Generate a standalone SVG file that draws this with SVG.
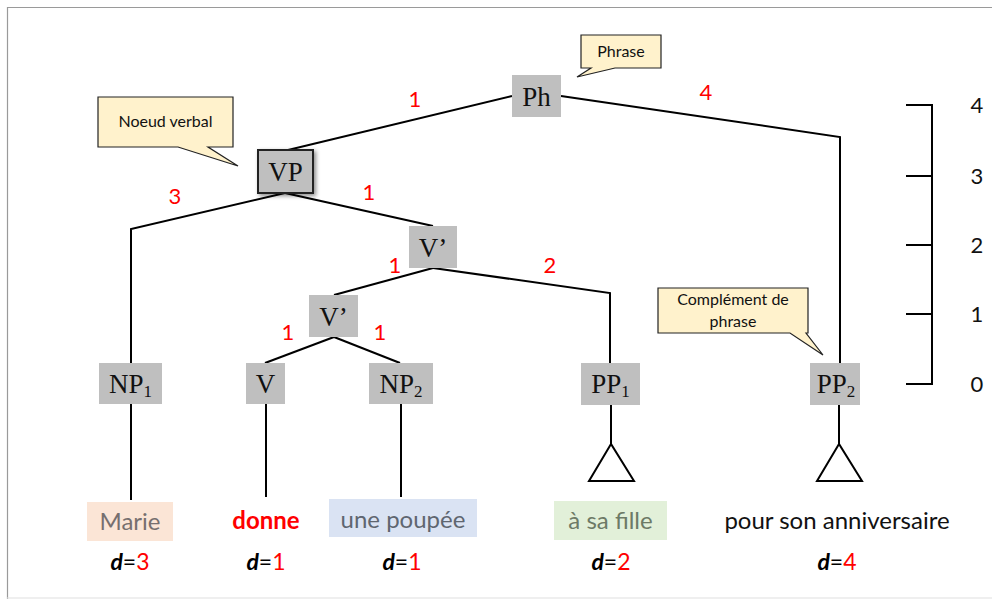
<svg xmlns="http://www.w3.org/2000/svg" width="992" height="599" viewBox="0 0 992 599">
<style>
.box{fill:#bfbfbf}
.lbl{font-family:"Liberation Serif","Times New Roman",serif;font-size:27px;fill:#111;text-anchor:middle}
.sub{font-size:17px}
.ln{stroke:#000;stroke-width:2;fill:none}
.num{font-family:Lato,"Open Sans",sans-serif;font-size:22px;fill:#ff0000;text-anchor:middle}
.call{fill:#fff2cc;stroke:#222;stroke-width:1.2}
.ct{font-family:Lato,"Open Sans",sans-serif;font-size:16px;fill:#111;text-anchor:middle}
.word{font-family:Lato,"Open Sans",sans-serif;font-size:24px;text-anchor:middle}
.d{font-family:Lato,"Open Sans",sans-serif;font-size:23px;text-anchor:middle;fill:#000}
.scale{font-family:Lato,"Open Sans",sans-serif;font-size:22px;fill:#111;text-anchor:middle}
</style>
<defs>
<filter id="sh" x="-30%" y="-30%" width="160%" height="160%">
<feDropShadow dx="2" dy="2" stdDeviation="2" flood-color="#000" flood-opacity="0.45"/>
</filter>
</defs>
<rect width="992" height="599" fill="#fff"/>
<g id="frame">
<line x1="7" y1="7.5" x2="992" y2="7.5" stroke="#9a9a9a" stroke-width="1.2"/>
<line x1="7.5" y1="7" x2="7.5" y2="599" stroke="#9a9a9a" stroke-width="1.2"/>
<line x1="7" y1="598" x2="992" y2="598" stroke="#e0e0e0" stroke-width="1.2"/>
</g>
<g id="connectors">
<polyline class="ln" points="512,96 288,150"/>
<polyline class="ln" points="561,96 840,137 840,363"/>
<polyline class="ln" points="285,193 131,229 131,363"/>
<polyline class="ln" points="285,193 433,226"/>
<polyline class="ln" points="433,268 334,295"/>
<polyline class="ln" points="433,268 610,293 610,363"/>
<polyline class="ln" points="334,337 265,363"/>
<polyline class="ln" points="334,337 400,363"/>
<line class="ln" x1="131" y1="404" x2="131" y2="500"/>
<line class="ln" x1="266" y1="404" x2="266" y2="497"/>
<line class="ln" x1="401" y1="404" x2="401" y2="497"/>
<line class="ln" x1="611" y1="405" x2="611" y2="444"/>
<polygon class="ln" points="611,444 589,481 634,481"/>
<line class="ln" x1="839" y1="405" x2="839" y2="444"/>
<polygon class="ln" points="839,444 817,481 862,481"/>
</g>
<g id="weights">
<text class="num" x="415" y="107">1</text>
<text class="num" x="706" y="100">4</text>
<text class="num" x="175" y="204">3</text>
<text class="num" x="369" y="200">1</text>
<text class="num" x="395" y="273">1</text>
<text class="num" x="550" y="273">2</text>
<text class="num" x="288" y="340">1</text>
<text class="num" x="380" y="340">1</text>
</g>
<g id="node-Ph">
<rect class="box" x="512" y="75" width="49" height="42"/>
<text class="lbl" x="536.5" y="106">Ph</text>
</g>
<g id="node-VP">
<rect x="258" y="150" width="55" height="43" fill="#bfbfbf" stroke="#222" stroke-width="2" filter="url(#sh)"/>
<text class="lbl" x="285.5" y="181">VP</text>
</g>
<g id="node-Vbar1">
<rect class="box" x="409" y="226" width="48" height="42"/>
<text class="lbl" x="433" y="257">V’</text>
</g>
<g id="node-Vbar2">
<rect class="box" x="309" y="295" width="49" height="42"/>
<text class="lbl" x="333.5" y="326">V’</text>
</g>
<g id="node-NP1">
<rect class="box" x="99" y="363" width="63" height="41"/>
<text class="lbl" x="130.5" y="393">NP<tspan class="sub" dy="4">1</tspan></text>
</g>
<g id="node-V">
<rect class="box" x="246" y="363" width="39" height="41"/>
<text class="lbl" x="265.5" y="393">V</text>
</g>
<g id="node-NP2">
<rect class="box" x="369" y="363" width="64" height="41"/>
<text class="lbl" x="401" y="393">NP<tspan class="sub" dy="4">2</tspan></text>
</g>
<g id="node-PP1">
<rect class="box" x="581" y="363" width="59" height="42"/>
<text class="lbl" x="610.5" y="393">PP<tspan class="sub" dy="4">1</tspan></text>
</g>
<g id="node-PP2">
<rect class="box" x="810" y="363" width="50" height="42"/>
<text class="lbl" x="836" y="393">PP<tspan class="sub" dy="4">2</tspan></text>
</g>
<g id="callout-phrase">
<path class="call" d="M581,35 H661 V68 H615 L577,77 L591,68 H581 Z"/>
<text class="ct" x="621" y="57">Phrase</text>
</g>
<g id="callout-noeud">
<path class="call" d="M98,97 H233 V147 H208 L238,166 L178,147 H98 Z"/>
<text class="ct" x="165.5" y="127">Noeud verbal</text>
</g>
<g id="callout-complement">
<path class="call" d="M658,288 H808 V333 H806 L823,355 L790,333 H658 Z"/>
<text class="ct" x="733" y="305">Complément de</text>
<text class="ct" x="733" y="327">phrase</text>
</g>
<g id="scale">
<polyline class="ln" points="906,105 932,105 932,384 906,384"/>
<line class="ln" x1="906" y1="176" x2="932" y2="176"/>
<line class="ln" x1="906" y1="245" x2="932" y2="245"/>
<line class="ln" x1="906" y1="314" x2="932" y2="314"/>
<text class="scale" x="977" y="113">4</text>
<text class="scale" x="977" y="184">3</text>
<text class="scale" x="977" y="253">2</text>
<text class="scale" x="977" y="322">1</text>
<text class="scale" x="977" y="392">0</text>
</g>
<g id="word-marie">
<rect x="87" y="502" width="86" height="39" fill="#fbe5d6"/>
<text class="word" x="130" y="530" fill="#766f6f">Marie</text>
</g>
<g id="word-donne">
<text class="word" x="266" y="529" fill="#ff0000" font-weight="bold">donne</text>
</g>
<g id="word-poupee">
<rect x="329" y="499" width="148" height="38" fill="#dae3f3"/>
<text class="word" x="403" y="528" fill="#5f6670">une poupée</text>
</g>
<g id="word-fille">
<rect x="554" y="501" width="113" height="39" fill="#e2f0d9"/>
<text class="word" x="610.5" y="529" fill="#6d7a66">à sa fille</text>
</g>
<g id="word-anniv">
<text class="word" x="837" y="529" fill="#111">pour son anniversaire</text>
</g>
<g id="distances">
<text class="d" x="130" y="570"><tspan font-weight="bold" font-style="italic">d</tspan>=<tspan fill="#ff0000">3</tspan></text>
<text class="d" x="266" y="570"><tspan font-weight="bold" font-style="italic">d</tspan>=<tspan fill="#ff0000">1</tspan></text>
<text class="d" x="402" y="570"><tspan font-weight="bold" font-style="italic">d</tspan>=<tspan fill="#ff0000">1</tspan></text>
<text class="d" x="611" y="570"><tspan font-weight="bold" font-style="italic">d</tspan>=<tspan fill="#ff0000">2</tspan></text>
<text class="d" x="837" y="570"><tspan font-weight="bold" font-style="italic">d</tspan>=<tspan fill="#ff0000">4</tspan></text>
</g>
</svg>
